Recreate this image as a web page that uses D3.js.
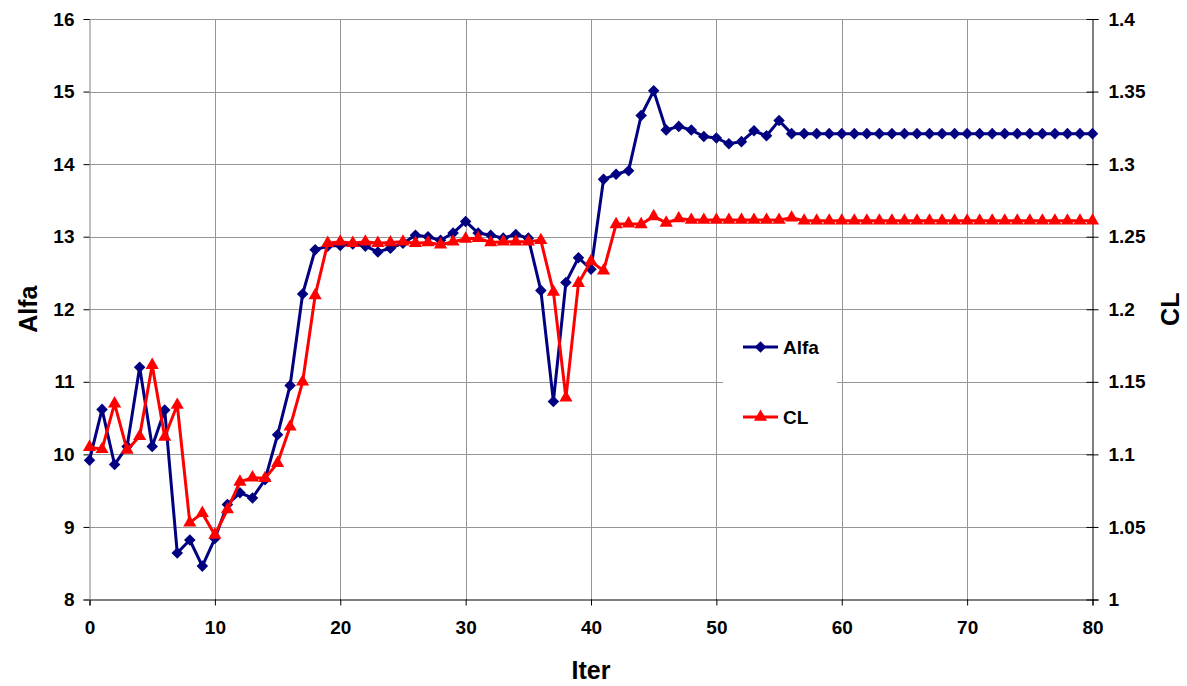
<!DOCTYPE html>
<html>
<head>
<meta charset="utf-8">
<script src="https://cdn.jsdelivr.net/npm/d3@7"></script>
<style>
  html, body { margin: 0; padding: 0; background: #fff; }
  svg { font-family: "Liberation Sans", Arial, sans-serif; font-weight: bold; }
  .grid line { stroke: #969696; stroke-width: 1; shape-rendering: crispEdges; }
  .tick text { fill: #000; font-size: 19px; font-family: "Liberation Sans", Arial, sans-serif; font-weight: bold; }
  .axistitle { font-size: 25px; fill: #000; }
  .legend text { font-size: 19px; fill: #000; }
</style>
</head>
<body>
<svg width="1187" height="686"></svg>
<script>
// iteration index (x categories)
const ITER = d3.range(0, 81);

// Alfa, left axis
const ALFA = [
  9.92, 10.62, 9.86, 10.11, 11.20, 10.11, 10.61, 8.64, 8.82, 8.46,
  8.84, 9.31, 9.47, 9.40, 9.65, 10.27, 10.95, 12.21, 12.82, 12.87,
  12.88, 12.90, 12.87, 12.79, 12.84, 12.91, 13.02, 13.00, 12.95, 13.05,
  13.21, 13.05, 13.02, 12.98, 13.03, 12.98, 12.26, 10.73, 12.37, 12.71,
  12.55, 13.79, 13.86, 13.91, 14.67, 15.01, 14.47, 14.52, 14.47, 14.38,
  14.36, 14.28, 14.31, 14.46, 14.39, 14.60, 14.42, 14.42, 14.42, 14.42,
  14.42, 14.42, 14.42, 14.42, 14.42, 14.42, 14.42, 14.42, 14.42, 14.42,
  14.42, 14.42, 14.42, 14.42, 14.42, 14.42, 14.42, 14.42, 14.42, 14.42,
  14.42
];

// CL, right axis
const CL = [
  1.105, 1.1035, 1.135, 1.103, 1.1125, 1.1615, 1.112, 1.134, 1.053, 1.0595,
  1.0445, 1.062, 1.081, 1.084, 1.0835, 1.094, 1.119, 1.150, 1.2095, 1.2455,
  1.2465, 1.2455, 1.2465, 1.2455, 1.246, 1.2465, 1.2455, 1.246, 1.2445, 1.2465,
  1.2485, 1.249, 1.246, 1.2465, 1.2465, 1.2465, 1.2475, 1.212, 1.139, 1.218,
  1.233, 1.2265, 1.2585, 1.259, 1.2585, 1.264, 1.2595, 1.2625, 1.2615, 1.2615,
  1.2615, 1.2615, 1.2615, 1.2615, 1.2615, 1.2615, 1.263, 1.261, 1.261, 1.261,
  1.261, 1.261, 1.261, 1.261, 1.261, 1.261, 1.261, 1.261, 1.261, 1.261,
  1.261, 1.261, 1.261, 1.261, 1.261, 1.261, 1.261, 1.261, 1.261, 1.261,
  1.261
];

const X_TICKS = [0, 10, 20, 30, 40, 50, 60, 70, 80];
const ALFA_TICKS = [8, 9, 10, 11, 12, 13, 14, 15, 16];
const CL_TICKS = [1, 1.05, 1.1, 1.15, 1.2, 1.25, 1.3, 1.35, 1.4];

const PLOT = { left: 89.5, right: 1092.5, top: 19, bottom: 599.5 };

const svg = d3.select('svg');

const x = d3.scaleLinear().domain([0, 80]).range([PLOT.left, PLOT.right]);
const yL = d3.scaleLinear().domain([8, 16]).range([PLOT.bottom, PLOT.top]);
const yR = d3.scaleLinear().domain([1, 1.4]).range([PLOT.bottom, PLOT.top]);

// grid
const grid = svg.append('g').classed('grid', true);
grid.selectAll('.hg')
    .data(ALFA_TICKS.slice(1))
    .enter()
    .append('line')
    .attr('x1', PLOT.left).attr('x2', PLOT.right)
    .attr('y1', d => Math.round(yL(d)) + 0.5)
    .attr('y2', d => Math.round(yL(d)) + 0.5);
grid.selectAll('.vg')
    .data(X_TICKS.slice(1, -1))
    .enter()
    .append('line')
    .attr('y1', PLOT.top).attr('y2', PLOT.bottom)
    .attr('x1', d => Math.round(x(d)) + 0.5)
    .attr('x2', d => Math.round(x(d)) + 0.5);

// axes
const xAxis = svg.append('g')
    .attr('transform', `translate(0,${PLOT.bottom})`)
    .call(d3.axisBottom(x).tickValues(X_TICKS).tickFormat(d3.format('d')).tickSize(6).tickPadding(15));
xAxis.select('.domain').attr('stroke', '#000');

const leftAxis = svg.append('g')
    .attr('transform', `translate(${PLOT.left},0)`)
    .call(d3.axisLeft(yL).tickValues(ALFA_TICKS).tickFormat(d3.format('d')).tickSize(6).tickPadding(9));
leftAxis.select('.domain').attr('stroke', '#808080');
leftAxis.selectAll('.tick line').attr('stroke', '#000');

const rightAxis = svg.append('g')
    .attr('transform', `translate(${PLOT.right},0)`)
    .call(d3.axisRight(yR).tickValues(CL_TICKS).tickFormat(d => d3.format('')(+d.toFixed(2))).tickSize(6).tickPadding(10));
rightAxis.select('.domain').attr('stroke', '#000');
rightAxis.selectAll('.tick line').attr('x1', -6);

svg.selectAll('.domain').attr('stroke-width', 1);

// series
const lineAlfa = d3.line().x((d, i) => x(ITER[i])).y(d => yL(d));
const lineCL = d3.line().x((d, i) => x(ITER[i])).y(d => yR(d));

const diamond = d3.symbol().type(d3.symbolDiamond2).size(85);
const triangle = d3.symbol().type(d3.symbolTriangle).size(75);

svg.append('path')
    .datum(ALFA)
    .attr('d', lineAlfa)
    .attr('fill', 'none')
    .attr('stroke', '#000080')
    .attr('stroke-width', 3)
    .attr('stroke-linejoin', 'round');
svg.selectAll('.alfamark')
    .data(ALFA)
    .enter()
    .append('path')
    .classed('alfamark', true)
    .attr('d', diamond)
    .attr('transform', (d, i) => `translate(${x(ITER[i])},${yL(d)})`)
    .attr('fill', '#000080');

svg.append('path')
    .datum(CL)
    .attr('d', lineCL)
    .attr('fill', 'none')
    .attr('stroke', '#ff0000')
    .attr('stroke-width', 3)
    .attr('stroke-linejoin', 'round');
svg.selectAll('.clmark')
    .data(CL)
    .enter()
    .append('path')
    .classed('clmark', true)
    .attr('d', triangle)
    .attr('transform', (d, i) => `translate(${x(ITER[i])},${yR(d)})`)
    .attr('fill', '#ff0000');

// axis titles
svg.append('text').classed('axistitle', true)
    .attr('x', (PLOT.left + PLOT.right) / 2).attr('y', 679)
    .attr('text-anchor', 'middle').text('Iter');
svg.append('text').classed('axistitle', true)
    .attr('transform', `translate(37,${(PLOT.top + PLOT.bottom) / 2}) rotate(-90)`)
    .attr('text-anchor', 'middle').text('Alfa');
svg.append('text').classed('axistitle', true)
    .attr('transform', `translate(1179,${(PLOT.top + PLOT.bottom) / 2}) rotate(-90)`)
    .attr('text-anchor', 'middle').text('CL');

// legend
const legend = svg.append('g').classed('legend', true);
legend.append('rect')
    .attr('x', 723).attr('y', 322).attr('width', 114).attr('height', 118)
    .attr('fill', '#fff');
const LEGEND_ITEMS = [
  { name: 'Alfa', color: '#000080', sym: diamond, y: 347 },
  { name: 'CL', color: '#ff0000', sym: triangle, y: 417 },
];
legend.selectAll('.lline')
    .data(LEGEND_ITEMS)
    .enter()
    .append('line')
    .attr('x1', 743).attr('x2', 778)
    .attr('y1', d => d.y).attr('y2', d => d.y)
    .attr('stroke', d => d.color).attr('stroke-width', 3);
legend.selectAll('.lmark')
    .data(LEGEND_ITEMS)
    .enter()
    .append('path')
    .attr('d', d => d.sym())
    .attr('transform', d => `translate(760.5,${d.y})`)
    .attr('fill', d => d.color);
legend.selectAll('.ltext')
    .data(LEGEND_ITEMS)
    .enter()
    .append('text')
    .attr('x', 783).attr('y', d => d.y + 7)
    .text(d => d.name);
</script>
</body>
</html>
